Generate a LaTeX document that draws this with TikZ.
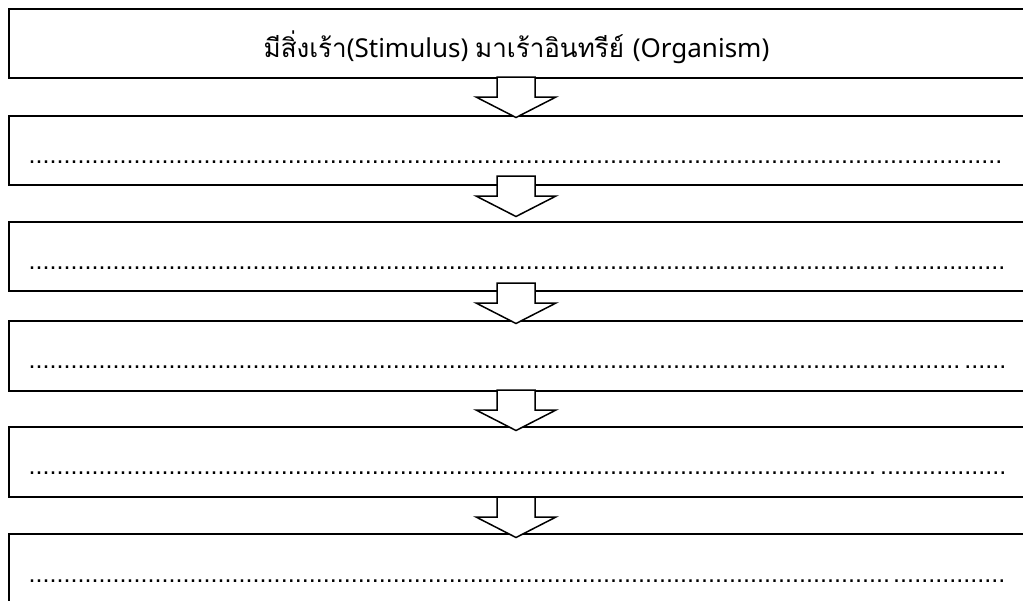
\documentclass[tikz,border=0pt]{standalone}
\usepackage{fontspec}
\newfontfamily\thaifont[Script=Thai]{Loma}
\newfontfamily\latfont{Noto Sans}
\newfontfamily\dotfont{Liberation Sans}
\newcommand\dotrun[1]{\foreach \i in {1,...,#1}{.}}
\tikzset{
  box/.style={draw, line width=2pt, minimum width=1024pt, inner sep=0pt},
  blockarrow/.style={draw, fill=white, line width=1.5pt, line join=miter},
  dotrow/.style={anchor=base west, inner sep=0pt, font=\dotfont\fontsize{25.2}{30}\selectfont},
  title/.style={anchor=base, inner sep=0pt, font=\fontsize{26}{30}\selectfont}
}
\begin{document}
\begin{tikzpicture}[x=1pt,y=-1pt]
\useasboundingbox (0,0) rectangle (1023,600);
\clip (0,0) rectangle (1023,600);
\fill[white] (0,0) rectangle (1023,600);
% boxes
\node[box, minimum height=69pt] (b1) at (521,43.5) {};
\node[box, minimum height=69pt] (b2) at (521,150.5) {};
\node[box, minimum height=69pt] (b3) at (521,256.5) {};
\node[box, minimum height=70pt] (b4) at (521,356) {};
\node[box, minimum height=70pt] (b5) at (521,462) {};
\node[box, minimum height=70pt] (b6) at (521,569) {};
% title
\node[title] (t1) at (516.5,57) {\thaifont มีสิ่งเร้า\latfont(Stimulus) \thaifont มาเร้าอินทรีย์ \latfont(Organism)};
% dotted rows
\node[dotrow] (d2) at (28.35,163.3) {\dotrun{139}};
\node[dotrow] (d3) at (28.35,269.6) {\dotrun{123}\kern3pt\dotrun{16}};
\node[dotrow] (d4) at (28.35,368.0) {\dotrun{133}\kern4pt\dotrun{6}};
\node[dotrow] (d5) at (28.35,474.6) {\dotrun{121}\kern4pt\dotrun{18}};
\node[dotrow] (d6) at (28.35,582.0) {\dotrun{123}\kern3pt\dotrun{16}};
% block arrows
\foreach \n/\y in {a1/77, a2/176, a3/283, a4/390, a5/497}{
  \coordinate (\n) at (516,\y);
  \draw[blockarrow] (\n) ++(-19,0) -- ++(0,20) -- ++(-21,0) -- ++(40,20.5) -- ++(40,-20.5) -- ++(-21,0) -- ++(0,-20) -- cycle;
}
\end{tikzpicture}
\end{document}
